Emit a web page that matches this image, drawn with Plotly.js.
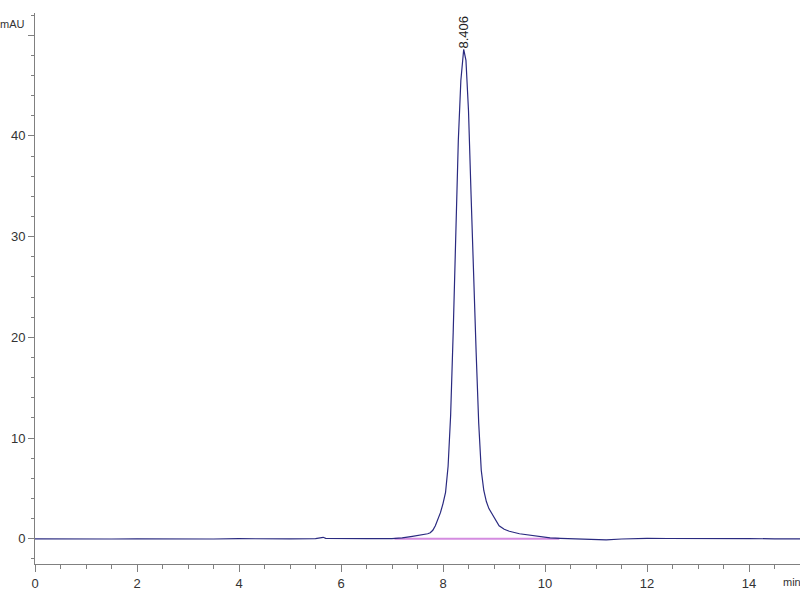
<!DOCTYPE html>
<html>
<head>
<meta charset="utf-8">
<script src="https://cdn.plot.ly/plotly-3.0.1.min.js"></script>
<style>html,body{margin:0;padding:0;background:#fff;}#chart{width:800px;height:600px;}</style>
</head>
<body>
<div id="chart"></div>
<script>
// Retention time (min) and absorbance (mAU)
const timeMin = [0, 0.5, 1, 1.5, 2, 2.5, 3, 3.5, 4, 4.5, 5, 5.5, 5.6, 5.65, 5.7, 6, 6.5, 7, 7.05, 7.2, 7.4, 7.6, 7.7, 7.75, 7.8, 7.85, 7.9, 7.95,
  8.0, 8.05, 8.1, 8.15, 8.2, 8.25, 8.3, 8.35, 8.406, 8.45, 8.5, 8.55, 8.6, 8.65, 8.7, 8.75, 8.8, 8.85, 8.9,
  9.0, 9.1, 9.2, 9.3, 9.5, 9.7, 9.9, 10.1, 10.3, 10.6, 11.0, 11.2, 11.5, 12, 12.4, 13, 13.5, 14, 14.5, 15];
const signalMAU = [0, -0.02, 0.01, -0.02, 0.0, -0.03, 0.0, -0.02, 0.01, -0.02, 0.0, 0.02, 0.08, 0.15, 0.05, 0.02, 0.01, 0.02, 0.03, 0.1, 0.25, 0.4, 0.5, 0.6, 0.85, 1.3, 1.9, 2.6,
  3.5, 4.6, 7.2, 12.3, 20.5, 31.5, 39.5, 45.5, 48.6, 47.5, 42.5, 34.2, 25.5, 18.5, 11.5, 6.8, 4.8, 3.7, 3.0,
  2.1, 1.3, 0.95, 0.75, 0.5, 0.35, 0.2, 0.1, 0.05, 0.02, -0.08, -0.1, -0.02, 0.05, 0.03, 0.0, 0.0, 0.02, 0.0, 0.0];
// Integration baseline of the peak
const baseTime = [7.05, 10.28];
const baseMAU = [0, 0];
// Peak label
const peakRT = 8.406;
const peakLabel = "8.406";
// Axis ticks
const xTicks = [0, 2, 4, 6, 8, 10, 12, 14];
const yTicks = [0, 10, 20, 30, 40, 50];
const yTickText = ["0", "10", "20", "30", "40", ""];

const fontFam = "'Liberation Sans', Arial, sans-serif";

const traces = [
  {x: baseTime, y: baseMAU, mode: 'lines', line: {color: '#d48ce0', width: 2}, hoverinfo: 'skip'},
  {x: timeMin, y: signalMAU, mode: 'lines', line: {color: '#2a2a80', width: 1.2}}
];

const layout = {
  width: 800, height: 600,
  margin: {l: 35, r: 0, t: 13, b: 36},
  paper_bgcolor: '#fff', plot_bgcolor: '#fff',
  showlegend: false,
  font: {family: fontFam, size: 14, color: '#333'},
  xaxis: {
    range: [0, 15], tickvals: xTicks, ticks: 'outside', ticklen: 7, tickcolor: '#808080',
    showline: true, linecolor: '#808080', linewidth: 1, showgrid: false, zeroline: false,
    tickfont: {family: fontFam, size: 13, color: '#333'},
    minor: {dtick: 0.5, ticks: 'outside', ticklen: 4, tickcolor: '#808080', showgrid: false}
  },
  yaxis: {
    range: [-2.5, 52.2], tickvals: yTicks, ticktext: yTickText, ticks: 'outside', ticklen: 6, tickcolor: '#808080',
    showline: true, linecolor: '#808080', linewidth: 1, showgrid: false, zeroline: false,
    tickfont: {family: fontFam, size: 13, color: '#333'},
    minor: {dtick: 2, ticks: 'outside', ticklen: 3, tickcolor: '#808080', showgrid: false}
  },
  annotations: [
    {text: 'mAU', xref: 'paper', yref: 'y', x: -0.011, y: 51.1, xanchor: 'right', yanchor: 'middle', showarrow: false,
     font: {family: fontFam, size: 11, color: '#333'}},
    {text: 'min', xref: 'x', yref: 'paper', x: 14.62, y: -0.033, xanchor: 'left', yanchor: 'middle', showarrow: false,
     font: {family: fontFam, size: 11, color: '#333'}},
    {text: peakLabel, xref: 'x', yref: 'y', x: peakRT, y: 48.5, xanchor: 'center', yanchor: 'bottom', textangle: -90,
     showarrow: false, font: {family: fontFam, size: 13, color: '#222'}}
  ]
};

Plotly.newPlot('chart', traces, layout, {staticPlot: true, displayModeBar: false});
</script>
</body>
</html>
